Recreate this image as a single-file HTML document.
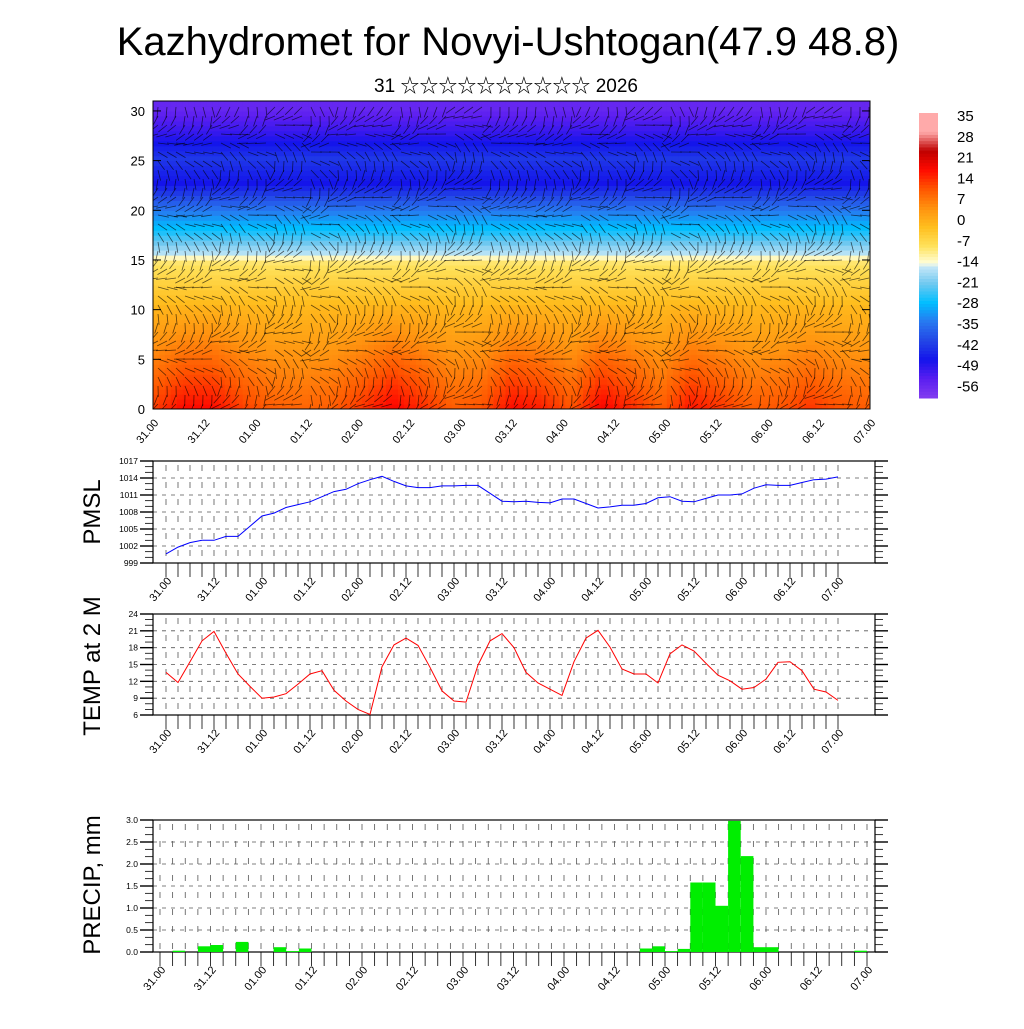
<!DOCTYPE html>
<html><head><meta charset="utf-8">
<style>
html,body{margin:0;padding:0;background:#fff;}
body{width:1024px;height:1024px;overflow:hidden;font-family:"Liberation Sans","Noto Sans CJK SC",sans-serif;}
svg text{font-family:"Liberation Sans","Noto Sans CJK SC",sans-serif;}
</style></head>
<body>
<svg id="chart" width="1024" height="1024" viewBox="0 0 1024 1024" xmlns="http://www.w3.org/2000/svg">
<defs><clipPath id="mainclip"><rect x="153" y="101" width="717" height="308"/></clipPath></defs>
<text x="508" y="55" font-size="40" text-anchor="middle">Kazhydromet for Novyi-Ushtogan(47.9 48.8)</text>
<text x="506" y="92" font-size="19" text-anchor="middle">31 ☆☆☆☆☆☆☆☆☆☆ 2026</text>
<g id="main"></g>
<g id="cbar"></g>
<g id="pmsl"></g>
<g id="temp"></g>
<g id="precip"></g>
</svg>
<script>
// ---------- data ----------
const timeLabels = ["31.00","31.12","01.00","01.12","02.00","02.12","03.00","03.12","04.00","04.12","05.00","05.12","06.00","06.12","07.00"];
const pmslValues = [1000.6,1001.8,1002.6,1003.0,1003.0,1003.7,1003.7,1005.5,1007.3,1007.8,1008.8,1009.3,1009.8,1010.7,1011.6,1012.0,1013.0,1013.7,1014.3,1013.4,1012.6,1012.3,1012.3,1012.6,1012.6,1012.7,1012.7,1011.3,1009.9,1009.8,1009.9,1009.7,1009.6,1010.3,1010.3,1009.5,1008.7,1008.9,1009.2,1009.2,1009.5,1010.5,1010.7,1009.9,1009.8,1010.4,1011.0,1011.0,1011.2,1012.2,1012.8,1012.7,1012.7,1013.2,1013.7,1013.8,1014.2];
const pmslTicks = [999,1002,1005,1008,1011,1014,1017];
const tempValues = [13.6,11.8,15.5,19.2,20.9,17.0,13.3,11.1,9.0,9.2,9.8,11.5,13.3,13.9,10.4,8.5,7.0,6.1,14.6,18.5,19.7,18.4,14.5,10.3,8.5,8.3,14.9,19.2,20.5,18.0,13.6,11.7,10.6,9.5,15.5,19.7,21.1,18.1,14.2,13.3,13.3,11.7,16.9,18.5,17.4,15.2,13.1,12.1,10.6,10.9,12.4,15.4,15.5,13.9,10.6,10.1,8.6];
const tempTicks = [6,9,12,15,18,21,24];
const precipValues = [0,0.03,0,0.13,0.16,0,0.23,0,0,0.11,0.02,0.08,0,0,0,0,0,0,0,0,0,0,0,0,0,0,0,0,0,0,0,0,0,0,0,0,0,0,0.08,0.13,0.02,0.07,1.58,1.58,1.05,2.98,2.18,0.11,0.11,0,0,0,0,0,0,0.03];
const precipTicks = [0,0.5,1.0,1.5,2.0,2.5,3.0];
const heights = [0,2.5,5,7.5,10,12.5,14.5,15.5,17.5,20,22.5,25,27.5,30];
const profile = [13,10,7,4,1,-4,-8,-16,-26,-36,-49,-44,-52,-58];
const surfaceAnom = [3,8,8,3,0,-1,0,4,9,5,0,1,8,6,1,9,5,0,7,4,0,1,4,1,0];
const cbarLabels = [35,28,21,14,7,0,-7,-14,-21,-28,-35,-42,-49,-56];

const NS="http://www.w3.org/2000/svg";
function el(tag,attrs,parent){const e=document.createElementNS(NS,tag);for(const k in attrs)e.setAttribute(k,attrs[k]);if(parent)parent.appendChild(e);return e;}

const cStops=[[-63,[130,60,240]],[-56,[90,30,240]],[-49,[20,20,235]],[-42,[35,70,230]],[-35,[40,120,240]],[-28,[0,190,255]],[-21,[110,200,240]],[-14.5,[200,232,248]],[-13.5,[255,255,220]],[-7,[255,225,90]],[0,[255,190,30]],[7,[255,145,15]],[14,[255,85,0]],[21,[255,10,0]],[28,[190,0,0]],[35,[255,170,170]]];
function cmap(v){if(v<=cStops[0][0])return "rgb("+cStops[0][1]+")";for(let i=1;i<cStops.length;i++){if(v<=cStops[i][0]){const a=cStops[i-1],b=cStops[i];const t=(v-a[0])/(b[0]-a[0]);return "rgb("+a[1].map((c,j)=>Math.round(c+(b[1][j]-c)*t)).join(",")+")";}}return "rgb("+cStops[cStops.length-1][1]+")";}

(function(){
 const g=document.getElementById('main');
 const X0=153,X1=870,Y0=101,Y1=409;
 const ys=h=>Y1-(Y1-Y0)*h/31;
 const cell=el('g',{'clip-path':'url(#mainclip)'},g);
 
 
 const nx=120, ny=62;
 for(let i=0;i<nx;i++){
  const tf=(i+0.5)/nx*(surfaceAnom.length-1);const ti=Math.min(Math.floor(tf),surfaceAnom.length-2);const tt=tf-ti;
  const an=surfaceAnom[ti]*(1-tt)+surfaceAnom[ti+1]*tt;
  for(let j=0;j<ny;j++){
   const h=j/ny*31;
   let k=0;while(k<heights.length-2&&h>heights[k+1])k++;
   const hh=Math.min(1,Math.max(0,(h-heights[k])/(heights[k+1]-heights[k])));
   let v=profile[k]*(1-hh)+profile[k+1]*hh;
   v+=an*Math.max(0,1-h/11);
   el('rect',{x:(X0+(X1-X0)*i/nx).toFixed(2),y:(ys(h+31/ny)).toFixed(2),width:((X1-X0)/nx+0.6).toFixed(2),height:((Y1-Y0)/ny+0.6).toFixed(2),fill:cmap(v)},cell);
  }
 }
 const bg=el('g',{stroke:'rgba(0,0,0,0.62)','stroke-width':0.8,fill:'none','clip-path':'url(#mainclip)'},g);
 
 
 const dirs=[80,60,100,70,120,50,90,110,65,95,130,75];
 for(let yy=Y0+6;yy<Y1;yy+=9){
  for(let xx=X0+5;xx<X1;xx+=9){
   const a=(dirs[Math.floor((xx-X0)/30)%dirs.length]+((yy-Y0)/9)*23)%180*Math.PI/180;
   const L=11;
   el('line',{x1:xx,y1:yy,x2:(xx+L*Math.cos(a)).toFixed(1),y2:(yy+L*Math.sin(a)).toFixed(1)},bg);
  }
 }
 el('rect',{x:X0,y:Y0,width:X1-X0,height:Y1-Y0,fill:'none',stroke:'#000','stroke-width':1},g);
 for(let v=0;v<=30;v+=5){
  const y=ys(v);
  el('line',{x1:X0,x2:X0+8,y1:y,y2:y,stroke:'#000'},g);
  el('line',{x1:X1-8,x2:X1,y1:y,y2:y,stroke:'#000'},g);
  const t=el('text',{x:X0-8,y:y+5,'font-size':13,'text-anchor':'end'},g);t.textContent=v;
  
  
 }
 timeLabels.forEach((lb,i)=>{
  const x=X0+(X1-X0)*i/(timeLabels.length-1);
  const t=el('text',{x:0,y:0,'font-size':11,'text-anchor':'end',transform:`translate(${x+6},${Y1+14}) rotate(-50)`},g);t.textContent=lb;
  
  
 });
})();

(function(){
 const g=document.getElementById('cbar');
 const X=919,W=19,Y0=113,Y1=398,n=91;
 for(let i=0;i<n;i++){
  const v=35+7-(i+0.5)*(105/n);
  el('rect',{x:X,y:(Y0+(Y1-Y0)*i/n).toFixed(2),width:W,height:((Y1-Y0)/n+0.5).toFixed(2),fill:cmap(v)},g);
 }
 cbarLabels.forEach((v,i)=>{
  const t=el('text',{x:957,y:121+i*20.8,'font-size':15},g);t.textContent=v;
  
  
 });
})();

function panel(id,box,vmin,vmax,ticks,fmt,xFirst,xLast,nPts,title,titleY){
 const g=document.getElementById(id);
 const [X0,Y0,X1,Y1]=box;
 const ys=v=>Y1-(Y1-Y0)*(v-vmin)/(vmax-vmin);
 const xs=i=>xFirst+(xLast-xFirst)*i/(nPts-1);
 const grid=el('g',{stroke:'#555','stroke-width':0.8,'stroke-dasharray':'4 5'},g);
 
 
 ticks.forEach(v=>{if(v>vmin&&v<vmax)el('line',{x1:X0,x2:X1,y1:ys(v),y2:ys(v)},grid);});
 for(let i=0;i<nPts;i++){el('line',{x1:xs(i),x2:xs(i),y1:Y0+4,y2:Y1,'stroke-dasharray':'6 11'},grid);}
 const step=(ticks[1]-ticks[0])/3;
 for(let v=vmin;v<=vmax+1e-6;v+=step){
  const major=ticks.some(t=>Math.abs(t-v)<1e-6);
  const L=major?13:8;
  el('line',{x1:X0-L,x2:X0,y1:ys(v),y2:ys(v),stroke:'#000','stroke-width':major?1.4:0.8},g);
  el('line',{x1:X1,x2:X1+L,y1:ys(v),y2:ys(v),stroke:'#000','stroke-width':major?1.4:0.8},g);
 }
 ticks.forEach(v=>{
  const t=el('text',{x:X0-15,y:ys(v)+3,'font-size':8.5,'text-anchor':'end'},g);t.textContent=fmt(v);
  
  
 });
 for(let i=0;i<nPts;i++){el('line',{x1:xs(i),x2:xs(i),y1:Y1,y2:Y1+14,stroke:'#000','stroke-width':0.8},g);}
 timeLabels.forEach((lb,i)=>{
  const x=xFirst+(xLast-xFirst)*i/(timeLabels.length-1);
  const t=el('text',{x:0,y:0,'font-size':11,'text-anchor':'end',transform:`translate(${x+6},${Y1+18}) rotate(-50)`},g);t.textContent=lb;
  
  
 });
 el('rect',{x:X0,y:Y0,width:X1-X0,height:Y1-Y0,fill:'none',stroke:'#000','stroke-width':1.2},g);
 const tt=el('text',{x:0,y:0,'font-size':24,'text-anchor':'middle',transform:`translate(100,${titleY}) rotate(-90)`},g);tt.textContent=title;
 
 
 return {g,xs,ys,X0,X1,Y0,Y1};
}

(function(){
 const p=panel('pmsl',[153,461,875,563],999,1017,pmslTicks,v=>v,166,838,pmslValues.length,'PMSL',512);
 const d=pmslValues.map((v,i)=>(i?'L':'M')+p.xs(i).toFixed(1)+','+p.ys(v).toFixed(1)).join('');
 const l=el('path',{d,fill:'none',stroke:'#0000ff','stroke-width':1},p.g);
 
 
})();
(function(){
 const p=panel('temp',[153,614,875,715],6,24,tempTicks,v=>v,166,838,tempValues.length,'TEMP at 2 M',666);
 const d=tempValues.map((v,i)=>(i?'L':'M')+p.xs(i).toFixed(1)+','+p.ys(v).toFixed(1)).join('');
 const l=el('path',{d,fill:'none',stroke:'#ff0000','stroke-width':1},p.g);
 
 
})();
(function(){
 const p=panel('precip',[153,820,875,952],0,3,precipTicks,v=>v.toFixed(1),160,867,57,'PRECIP, mm',885);
 const bw=(867-160)/56;
 const bars=el('g',{fill:'#00ee00'},p.g);
 
 
 precipValues.forEach((v,i)=>{
  if(v<=0)return;
  const y=p.ys(v);
  const r=el('rect',{x:(160+bw*i).toFixed(1),y:y.toFixed(1),width:bw.toFixed(1),height:(p.Y1-y).toFixed(1)},bars);
  
  
 });
})();
</script>
</body></html>
